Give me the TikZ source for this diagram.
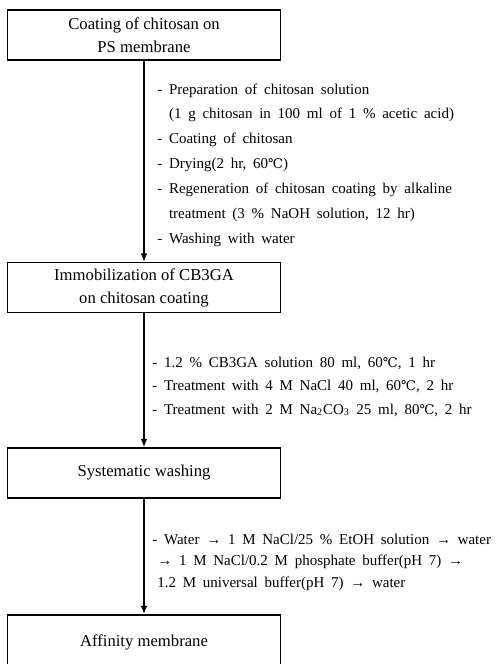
\documentclass[tikz,border=0pt]{standalone}
\usepackage{fontspec}
\setmainfont{Liberation Serif}
\newfontfamily\degfont{DejaVu Serif}
\usetikzlibrary{arrows.meta,positioning}
\newcommand{\degC}{{\degfont\fontsize{8}{9}\selectfont ℃}}
\newcommand{\widespaces}{\spaceskip=0.45em plus 0.1em\relax}

\tikzset{
	stepbox/.style={draw, line width=1pt, minimum width=163.8pt, minimum height=30pt,
		align=center, inner sep=0pt, font=\fontsize{10}{13.8}\selectfont},
	notes/.style={anchor=base west, align=left, inner sep=0pt,
		font=\fontsize{9}{#1}\selectfont\widespaces},
	flow/.style={-{Latex[length=5pt,width=4pt]}, line width=0.8pt},
}

\begin{document}
\begin{tikzpicture}[x=0.6pt, y=-0.6pt]
	% page frame (pixels of the scan)
	\useasboundingbox (0, 0) rectangle (501, 664);
	\clip (0, 0) rectangle (501, 664);
	% Boxes:
	\node[stepbox] (coat) at (144, 35) {Coating of chitosan on\\PS membrane};
	\node[stepbox] (immob) at (144, 287.5) {Immobilization of CB3GA\\on chitosan coating};
	\node[stepbox] (syswash) at (144, 473) {Systematic washing};
	\node[stepbox, minimum height=32.4pt] (affin) at (144, 642) {Affinity membrane};
	% Arrows:
	\draw[flow] (coat) -- (immob);
	\draw[flow] (immob) -- (syswash);
	\draw[flow] (syswash) -- (affin);
	% Conditions beside the arrows (placed by their last line):
	\node[notes=14.9pt] (prepnotes) at (157, 243) {- Preparation of chitosan solution\\
		\hphantom{- }(1 g chitosan in 100 ml of 1 \% acetic acid)\\
		- Coating of chitosan\\
		- Drying(2 hr, 60\degC)\\
		- Regeneration of chitosan coating by alkaline\\
		\hphantom{- }treatment (3 \% NaOH solution, 12 hr)\\
		- Washing with water};
	\node[notes=14.1pt] (immobnotes) at (152, 414) {- 1.2 \% CB3GA solution 80 ml, 60\degC, 1 hr\\
		- Treatment with 4 M NaCl 40 ml, 60\degC, 2 hr\\
		- Treatment with 2 M Na\textsubscript{2}CO\textsubscript{3} 25 ml, 80\degC, 2 hr};
	\node[notes=12.9pt] (washnotes) at (152, 587) {- Water → 1 M NaCl/25 \% EtOH solution → water\\
		\hspace*{3pt}→ 1 M NaCl/0.2 M phosphate buffer(pH 7) →\\
		\hspace*{3pt}1.2 M universal buffer(pH 7) → water};
\end{tikzpicture}
\end{document}
